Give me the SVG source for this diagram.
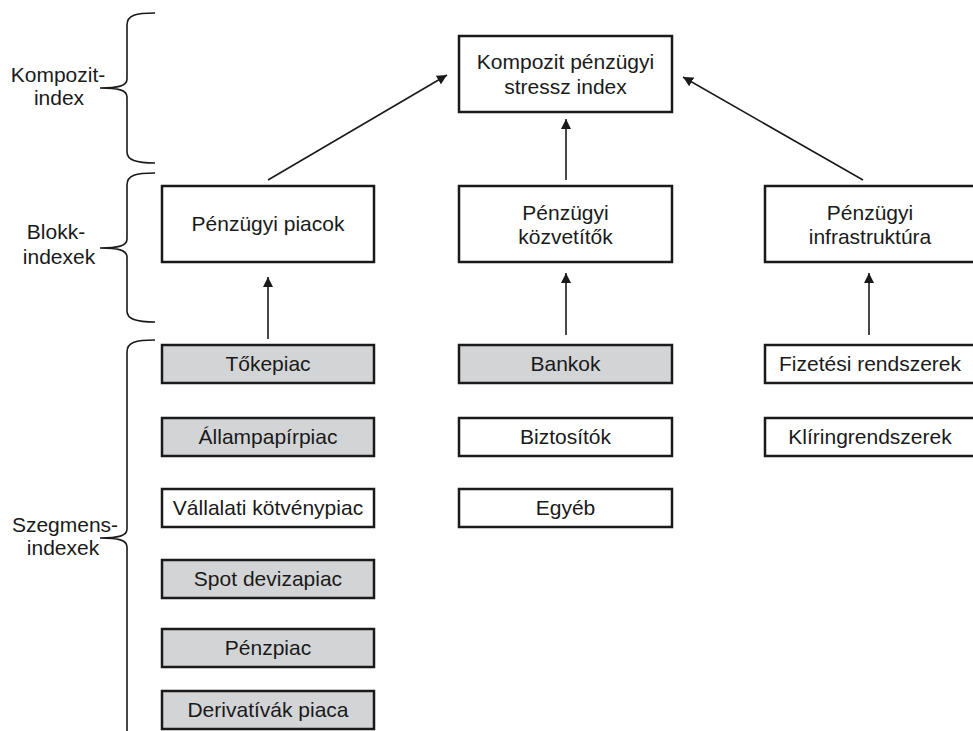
<svg xmlns="http://www.w3.org/2000/svg" width="973" height="731" viewBox="0 0 973 731">
<defs>
<marker id="ah" viewBox="0 0 10 10" refX="10" refY="5" markerWidth="10" markerHeight="10" markerUnits="userSpaceOnUse" orient="auto">
<path d="M0,0 L10,5 L0,10 Z" fill="#1a1a1a"/>
</marker>
</defs>
<style>
.box{fill:#fff;stroke:#1a1a1a;stroke-width:2.5}
.gray{fill:#d3d4d6;stroke:#1a1a1a;stroke-width:2.5}
.t{font-family:"Liberation Sans",Arial,sans-serif;font-size:21px;fill:#1a1a1a;text-anchor:middle}
.c{stroke:#1a1a1a;stroke-width:1.6;fill:none}
.br{stroke:#1a1a1a;stroke-width:1.6;fill:none}
</style>
<rect width="973" height="731" fill="#fff"/>

<g id="brackets">
<path class="br" d="M155,13 C136,13 127,15 127,25 L127,79 C127,86 118,88 100,88 C118,88 127,90 127,97 L127,152 C127,160 136,163 155,163"/>
<path class="br" d="M155,173 C136,173 127,175 127,185 L127,239 C127,246 118,248 100,248 C118,248 127,250 127,257 L127,311 C127,319 136,322 155,322"/>
<path class="br" d="M155,340 C136,340 127,342 127,352 L127,529 C127,536 118,538 100,538 C118,538 127,540 127,547 L127,735"/>
</g>

<g id="labels">
<text class="t" x="58" y="82">Kompozit-</text>
<text class="t" x="59" y="105">index</text>
<text class="t" x="56" y="239">Blokk-</text>
<text class="t" x="59" y="264">indexek</text>
<text class="t" x="65" y="532">Szegmens-</text>
<text class="t" x="63" y="555">indexek</text>
</g>

<g id="connectors">
<line class="c" x1="268" y1="180" x2="447" y2="75" marker-end="url(#ah)"/>
<line class="c" x1="566" y1="180" x2="566" y2="119" marker-end="url(#ah)"/>
<line class="c" x1="863" y1="180" x2="683" y2="77" marker-end="url(#ah)"/>
<line class="c" x1="268" y1="339" x2="268" y2="277" marker-end="url(#ah)"/>
<line class="c" x1="566" y1="335" x2="566" y2="273" marker-end="url(#ah)"/>
<line class="c" x1="869" y1="335" x2="869" y2="273" marker-end="url(#ah)"/>
</g>

<g id="n-kompozit">
<rect class="box" x="459" y="36" width="213" height="76"/>
<text class="t" x="565.5" y="69">Kompozit pénzügyi</text>
<text class="t" x="565.5" y="94">stressz index</text>
</g>

<g id="n-piacok">
<rect class="box" x="162" y="186" width="212" height="76"/>
<text class="t" x="268" y="231">Pénzügyi piacok</text>
</g>
<g id="n-kozvetitok">
<rect class="box" x="459" y="186" width="213" height="76"/>
<text class="t" x="565.5" y="220">Pénzügyi</text>
<text class="t" x="565.5" y="244">közvetítők</text>
</g>
<g id="n-infra">
<rect class="box" x="765" y="186" width="215" height="76"/>
<text class="t" x="870" y="220">Pénzügyi</text>
<text class="t" x="870" y="244">infrastruktúra</text>
</g>

<g id="n-tokepiac">
<rect class="gray" x="162" y="345" width="212" height="38"/>
<text class="t" x="268" y="371">Tőkepiac</text>
</g>
<g id="n-allampapir">
<rect class="gray" x="162" y="418" width="212" height="38"/>
<text class="t" x="268" y="444">Állampapírpiac</text>
</g>
<g id="n-vallalati">
<rect class="box" x="162" y="489" width="212" height="38"/>
<text class="t" x="268" y="515">Vállalati kötvénypiac</text>
</g>
<g id="n-spot">
<rect class="gray" x="162" y="560" width="212" height="38"/>
<text class="t" x="268" y="586">Spot devizapiac</text>
</g>
<g id="n-penzpiac">
<rect class="gray" x="162" y="629" width="212" height="38"/>
<text class="t" x="268" y="655">Pénzpiac</text>
</g>
<g id="n-derivativak">
<rect class="gray" x="162" y="691" width="212" height="38"/>
<text class="t" x="268" y="717">Derivatívák piaca</text>
</g>

<g id="n-bankok">
<rect class="gray" x="459" y="345" width="213" height="38"/>
<text class="t" x="565.5" y="371">Bankok</text>
</g>
<g id="n-biztositok">
<rect class="box" x="459" y="418" width="213" height="38"/>
<text class="t" x="565.5" y="444">Biztosítók</text>
</g>
<g id="n-egyeb">
<rect class="box" x="459" y="489" width="213" height="38"/>
<text class="t" x="565.5" y="515">Egyéb</text>
</g>

<g id="n-fizetesi">
<rect class="box" x="765" y="345" width="215" height="38"/>
<text class="t" x="870" y="371">Fizetési rendszerek</text>
</g>
<g id="n-kliring">
<rect class="box" x="765" y="418" width="215" height="38"/>
<text class="t" x="870" y="444">Klíringrendszerek</text>
</g>
</svg>
